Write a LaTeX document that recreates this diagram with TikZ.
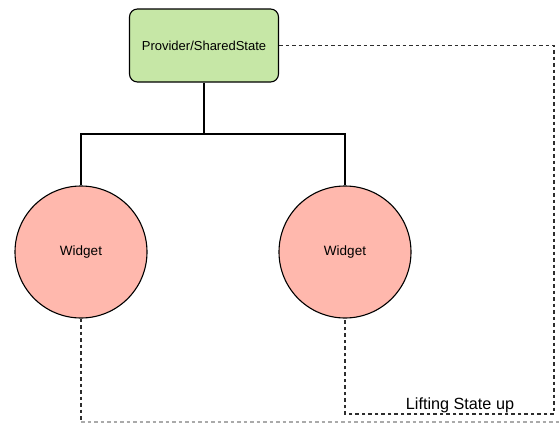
\documentclass[tikz,border=0pt]{standalone}
\usepackage{fontspec}
\setmainfont{Liberation Sans}
\definecolor{boxgreen}{RGB}{198,231,166}
\definecolor{circred}{RGB}{255,184,173}
\definecolor{lightdash}{RGB}{170,170,170}
\definecolor{darkdash}{RGB}{45,45,45}
\begin{document}
\begin{tikzpicture}[x=1pt,y=-1pt,
  provbox/.style={draw=black,line width=1.1pt,fill=boxgreen,rounded corners=8pt,minimum width=149pt,minimum height=73pt,inner sep=0pt,font=\fontsize{13}{15}\selectfont},
  widget/.style={draw=black,line width=1.1pt,fill=circred,circle,minimum size=132pt,inner sep=0pt,font=\fontsize{13.5}{15}\selectfont},
  solidline/.style={draw=black,line width=1.1pt},
  dline/.style={draw=darkdash,line width=1.2pt,dash pattern=on 3.5pt off 3pt},
  lline/.style={draw=lightdash,line width=1.1pt,dash pattern=on 3.5pt off 3pt}]
\useasboundingbox (0,0) rectangle (559,423);
\node[provbox] (prov) at (204,45.5) {Provider/SharedState};
\node[widget] (w1) at (81,252) {Widget};
\node[widget] (w2) at (345,252) {Widget};
\coordinate (j) at (204,134);
\coordinate (c1) at (554,45.5);
\coordinate (c2) at (554,414);
\coordinate (c3) at (345,414);
\coordinate (c4) at (81,422);
\coordinate (c5) at (562,422);
\draw[solidline] (prov.south) -- (j);
\draw[solidline] (w1.north) |- (j) -| (w2.north);
\draw[dline] (prov.east) -- (c1) -- (c2) -- (c3) -- (w2.south);
\draw[dline] (w1.south) -- (c4);
\draw[lline] (c4) -- (c5);
\node[font=\fontsize{16.2}{18}\selectfont,anchor=base,inner sep=0pt] (lbl) at (460,409.5) {Lifting State up};
\end{tikzpicture}
\end{document}
